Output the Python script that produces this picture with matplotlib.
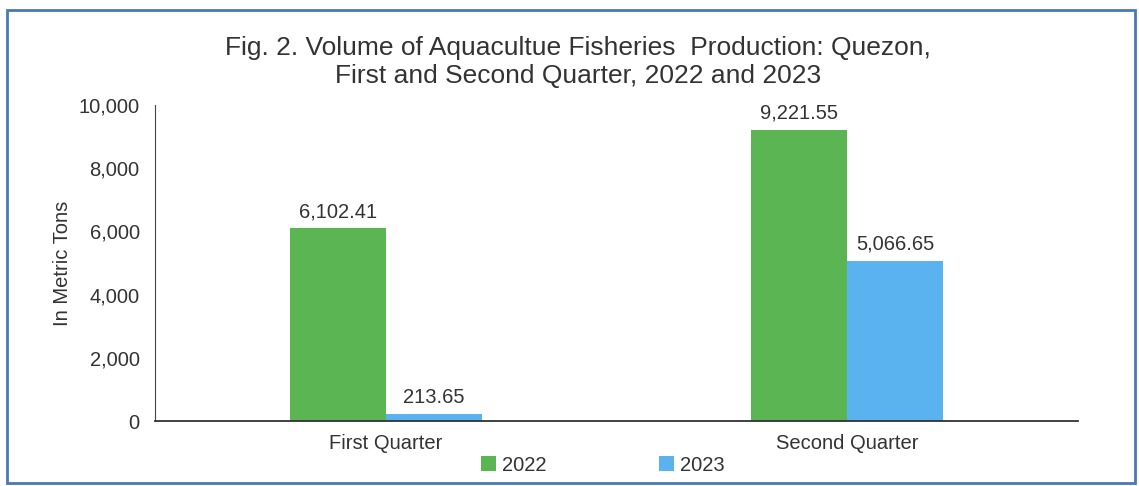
import matplotlib
matplotlib.use("Agg")
import matplotlib.pyplot as plt
from matplotlib.patches import Rectangle
import numpy as np

categories = ["First Quarter", "Second Quarter"]
series_names = ["2022", "2023"]
values_2022 = [6102.41, 9221.55]
values_2023 = [213.65, 5066.65]
value_labels_2022 = ["6,102.41", "9,221.55"]
value_labels_2023 = ["213.65", "5,066.65"]
yticks = [0, 2000, 4000, 6000, 8000, 10000]
ytick_labels = ["0", "2,000", "4,000", "6,000", "8,000", "10,000"]

W, H = 1139, 486
fig = plt.figure(figsize=(W / 100, H / 100), dpi=100)
plt.rcParams['font.family'] = ['Liberation Sans', 'DejaVu Sans']
txt = "#333333"
fs = 14.5

# border
fig.patches.append(Rectangle((7 / W, 3 / H), 1128 / W, 473 / H,
                             transform=fig.transFigure, fill=False,
                             edgecolor="#4a78b5", linewidth=2))

ax = fig.add_axes([155 / W, 1 - 421 / H, (1078 - 155) / W, (421 - 105) / H])
green = "#5cb553"
blue = "#5ab3ee"
x = np.arange(len(categories))
bw = 0.208
b1 = ax.bar(x - bw / 2, values_2022, bw, color=green, label=series_names[0])
b2 = ax.bar(x + bw / 2, values_2023, bw, color=blue, label=series_names[1])
for rect, lab in zip(b1, value_labels_2022):
    ax.annotate(lab, (rect.get_x() + rect.get_width() / 2, rect.get_height()),
                xytext=(0, 5), textcoords="offset points", ha="center", va="bottom",
                fontsize=fs, color=txt)
for rect, lab in zip(b2, value_labels_2023):
    ax.annotate(lab, (rect.get_x() + rect.get_width() / 2, rect.get_height()),
                xytext=(0, 5), textcoords="offset points", ha="center", va="bottom",
                fontsize=fs, color=txt)

ax.set_xlim(-0.5, 1.5)
ax.set_ylim(0, 10000)
ax.set_yticks(yticks)
ax.set_yticklabels(ytick_labels, fontsize=fs, color=txt)
ax.set_xticks(x)
ax.set_xticklabels(categories, fontsize=fs, color=txt)
ax.tick_params(axis='y', length=0, pad=11)
ax.tick_params(axis='x', length=0, pad=9)
for s in ["top", "right"]:
    ax.spines[s].set_visible(False)
ax.spines["left"].set_color("#444444")
ax.spines["bottom"].set_color("#333333")
ax.spines["bottom"].set_linewidth(1.3)
ax.set_ylabel("In Metric Tons", fontsize=fs, color=txt, labelpad=5)

fig.text(578 / W, 1 - 62 / H, "Fig. 2. Volume of Aquacultue Fisheries  Production: Quezon,\nFirst and Second Quarter, 2022 and 2023",
         ha="center", va="center", fontsize=19, color=txt, linespacing=1.25)

fig.legend(handles=[b1, b2], labels=series_names, loc="center",
           bbox_to_anchor=(603 / W, 1 - 465 / H), ncol=2, frameon=False,
           fontsize=fs, handlelength=0.75, handleheight=0.75, handletextpad=0.3,
           columnspacing=5.6, labelcolor=txt)

fig.savefig("out.png", dpi=100)
